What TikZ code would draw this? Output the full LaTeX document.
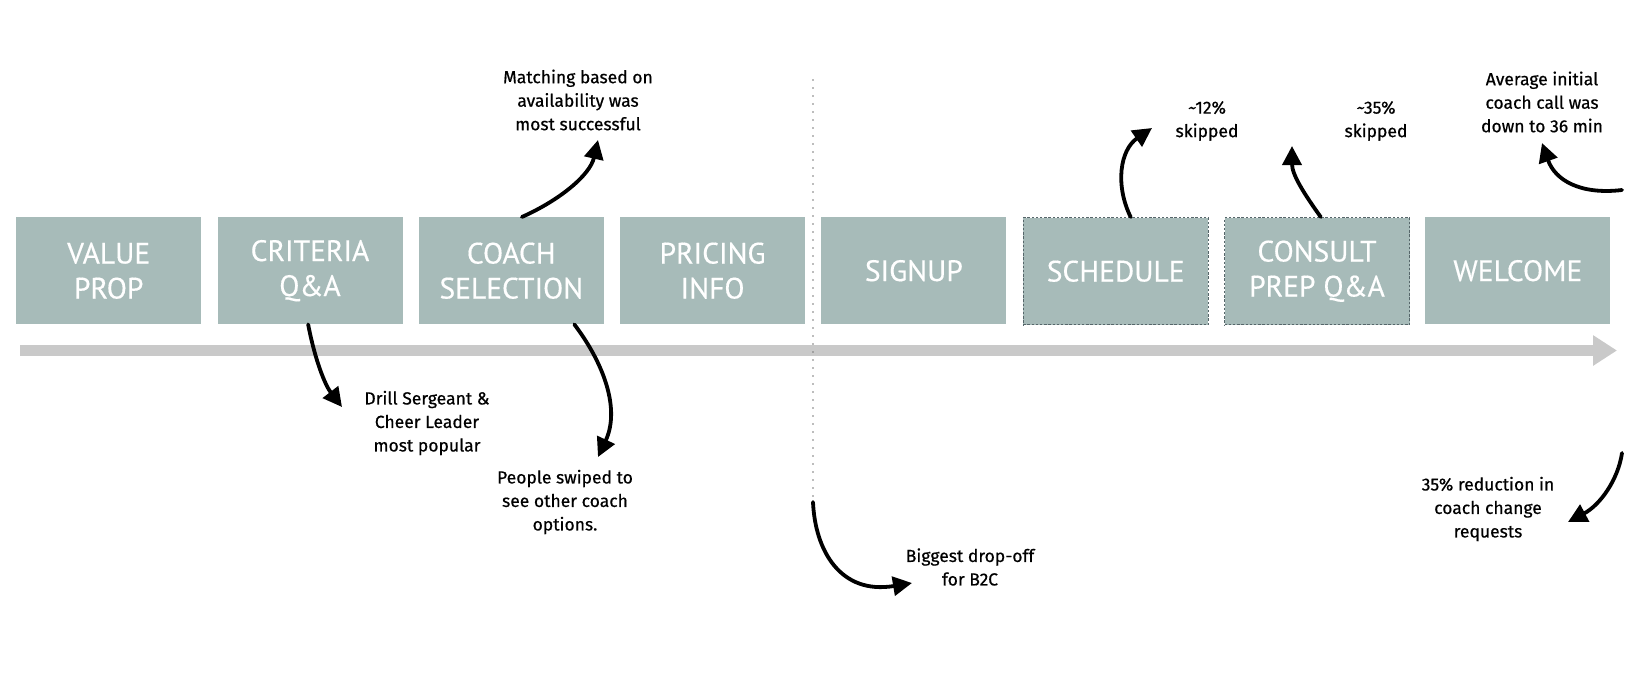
\documentclass[tikz,border=0pt]{standalone}
\usepackage{fontspec}
\setmainfont{PT Sans}
\newfontfamily\notefont[FakeBold=0.6]{Fira Sans}
\newfontfamily\stagefont[FakeBold=0.4]{PT Sans}
\usetikzlibrary{arrows.meta,calc}
\definecolor{boxc}{HTML}{A7BBB9}
\definecolor{barc}{HTML}{C9C9C9}
\definecolor{dashc}{HTML}{56666A}
\definecolor{dotc}{HTML}{7A7A7A}
\begin{document}
\begin{tikzpicture}[x=1pt,y=-1pt,
  stage/.style={fill=boxc, minimum width=185pt, minimum height=107pt, inner sep=0pt, text=white,
    font=\stagefont\fontsize{29.5}{35}\selectfont, align=center, anchor=north west},
  skippable/.style={draw=dashc, dash pattern=on 2.4pt off 1.8pt, line width=1.4pt},
  note/.style={font=\notefont\fontsize{17.5}{23.5}\selectfont, align=center, text=black, inner sep=0pt},
  hand/.style={line width=3.8pt, line cap=round, -{Triangle[length=19pt,width=19pt]}},
  timeline/.style={draw=barc, line width=11pt, -{Triangle[length=24pt,width=29pt]}},
  divider/.style={draw=dotc, line width=1.8pt, line cap=round, dash pattern=on 0pt off 8pt}]
\useasboundingbox (0,0) rectangle (1636,678);

% timeline bar
\coordinate (tl0) at (20,350.5);
\coordinate (tl1) at (1617,350.5);
\draw[timeline] (tl0) -- (tl1);

% stages
\node[stage] (vp) at (16,217) {VALUE\\PROP};
\node[stage] (crit) at (217.3,217) {CRITERIA\\Q\&A};
\node[stage] (coach) at (418.6,217) {COACH\\SELECTION};
\node[stage] (price) at (619.9,217) {PRICING\\INFO};
\node[stage] (sign) at (821.2,217) {SIGNUP};
\node[stage,skippable] (sched) at (1022.5,217) {SCHEDULE};
\node[stage,skippable] (consult) at (1223.8,217) {CONSULT\\PREP Q\&A};
\node[stage] (welc) at (1425.1,217) {WELCOME};

% divider
\coordinate (d0) at (813,80);
\coordinate (d1) at (813,502);
\draw[divider] (d0) -- (d1);

% notes
\node[note] (match) at (578,100) {Matching based on\\availability was\\most successful};
\node[note] (drill) at (427,423) {Drill Sergeant \&\\Cheer Leader\\most popular};
\node[note] (people) at (565,502) {People swiped to\\see other coach\\options.};
\node[note] (s12) at (1207,121) {\textasciitilde12\%\\skipped};
\node[note] (s35) at (1376,121) {\textasciitilde35\%\\skipped};
\node[note] (avg) at (1542,102) {Average initial\\coach call was\\down to 36 min};
\node[note] (red) at (1488,509) {35\% reduction in\\coach change\\requests};
\node[note] (drop) at (970,567) {Biggest drop-off\\for B2C};

% arrow tips
\coordinate (tMatch) at (598,140);
\coordinate (tDrill) at (342,407);
\coordinate (tPeople) at (598,457);
\coordinate (tS12) at (1152,128);
\coordinate (tS35) at (1292,146);
\coordinate (wStart) at (1622,190);
\coordinate (tAvg) at (1542,143);
\coordinate (rStart) at (1622,453);
\coordinate (tRed) at (1568,522);
\coordinate (tDrop) at (912,583);

% arrows
\draw[hand] ($(coach.north west)!0.557!(coach.north east)$) .. controls (560,200) and (590,175) .. (tMatch);
\draw[hand] ($(crit.south west)!0.49!(crit.south east)$) .. controls (315,360) and (325,385) .. (tDrill);
\draw[hand] ($(coach.south west)!0.84!(coach.south east)$) .. controls (605,365) and (620,410) .. (tPeople);
\draw[hand] ($(sched.north west)!0.58!(sched.north east)$) .. controls (1115,185) and (1120,150) .. (tS12);
\draw[hand] ($(consult.north west)!0.52!(consult.north east)$) .. controls (1305,195) and (1292,175) .. (tS35);
\draw[hand] (wStart) .. controls (1580,195) and (1555,180) .. (tAvg);
\draw[hand] (rStart) .. controls (1618,480) and (1600,505) .. (tRed);
\draw[hand] (d1) .. controls (815,550) and (840,595) .. (tDrop);
\end{tikzpicture}
\end{document}
